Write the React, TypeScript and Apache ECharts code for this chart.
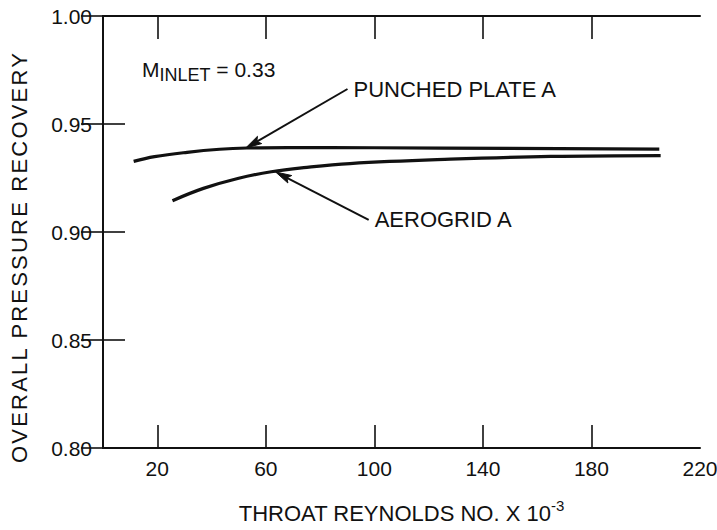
import { useEffect, useRef } from "react";
import * as echarts from "echarts";

// Throat Reynolds number (x 10^-3) and overall pressure recovery per screen
const punchedRe = [11.3, 19, 31, 43, 53, 68, 100, 150, 205];
const punchedRecovery = [0.9327, 0.9349, 0.9369, 0.9383, 0.9389, 0.9391, 0.939, 0.9387, 0.9384];
const aerogridRe = [25.6, 37, 50, 62, 74, 91, 128, 165, 205.5];
const aerogridRecovery = [0.9145, 0.9202, 0.9249, 0.9279, 0.9298, 0.9317, 0.9337, 0.935, 0.9354];

// Axis ticks
const xLabelValues = [20, 60, 100, 140, 180, 220];
const xTickValues = [20, 60, 100, 140, 180];

// Callout arrows: label, tail (text end) and tip (on the curve)
const calloutLabels = ["PUNCHED PLATE A", "AEROGRID A"];
const calloutTailRe = [90.1, 97.9];
const calloutTailRecovery = [0.9662, 0.9056];
const calloutTipRe = [52.6, 63.6];
const calloutTipRecovery = [0.9389, 0.9278];

const INK = "#111";
const FONT = "Liberation Sans, Arial, Helvetica, sans-serif";

// The vertical axis title is set with wider tracking than the other texts
const TITLE_TRACKING_CSS = `.recovery-chart svg text[transform^="matrix(0,-1"] { letter-spacing: 2.2px; }`;

export default function App() {
  const ref = useRef<HTMLDivElement>(null);

  useEffect(() => {
    if (!ref.current) return;
    const chart = echarts.init(ref.current, undefined, { renderer: "svg" });

    const pair = (xs: number[], ys: number[]) => xs.map((x, i) => [x, ys[i]]);
    const callouts = calloutLabels.map((label, i) => [
      calloutTailRe[i],
      calloutTailRecovery[i],
      calloutTipRe[i],
      calloutTipRecovery[i],
      label,
    ]);

    const axisLine = { show: true, lineStyle: { color: INK, width: 2 } };
    const tickStyle = { color: INK, width: 1.6 };

    chart.setOption({
      animation: false,
      backgroundColor: "#fff",
      grid: { left: 103, right: 17, top: 16, bottom: 82, outerBoundsMode: "none", containLabel: false },
      xAxis: [
        {
          type: "value",
          min: 0,
          max: 220,
          position: "bottom",
          axisLine,
          splitLine: { show: false },
          axisTick: { show: true, inside: true, length: 23, customValues: xTickValues, lineStyle: tickStyle },
          axisLabel: {
            customValues: xLabelValues,
            margin: 10,
            color: INK,
            fontSize: 21,
            fontFamily: FONT,
          },
          name: "THROAT REYNOLDS NO. X 10{sup|-3}",
          nameLocation: "middle",
          nameGap: 50,
          nameTextStyle: {
            color: INK,
            fontSize: 22,
            fontFamily: FONT,
            lineHeight: 30,
            rich: {
              sup: { fontSize: 15, lineHeight: 14, verticalAlign: "top", color: INK, fontFamily: FONT },
            },
          },
        },
        {
          type: "value",
          min: 0,
          max: 220,
          position: "top",
          axisLine,
          splitLine: { show: false },
          axisTick: { show: true, inside: true, length: 23, customValues: xTickValues, lineStyle: tickStyle },
          axisLabel: { show: false },
        },
      ],
      yAxis: [
        {
          type: "value",
          min: 0.8,
          max: 1.0,
          interval: 0.05,
          position: "left",
          axisLine,
          splitLine: { show: false },
          axisTick: { show: true, inside: true, length: 22, lineStyle: tickStyle },
          axisLabel: {
            margin: 11,
            color: INK,
            fontSize: 21,
            fontFamily: FONT,
            formatter: (v: number) => v.toFixed(2),
          },
        },
        {
          type: "value",
          min: 0.8,
          max: 1.0,
          interval: 0.05,
          position: "right",
          axisLine,
          splitLine: { show: false },
          axisTick: { show: true, inside: true, length: 22, lineStyle: tickStyle },
          axisLabel: { show: false },
        },
      ],
      graphic: [
        {
          type: "text",
          x: 19,
          y: 257,
          rotation: Math.PI / 2,
          style: {
            text: "OVERALL PRESSURE RECOVERY",
            fill: INK,
            font: `22px ${FONT}`,
            align: "center",
            verticalAlign: "middle",
          },
        },
        {
          type: "text",
          x: 142,
          y: 69,
          style: {
            text: "{m|M}{sub|INLET}{m| = 0.33}",
            align: "left",
            verticalAlign: "middle",
            rich: {
              m: { fontSize: 21, fontFamily: FONT, lineHeight: 30, fill: INK },
              sub: { fontSize: 18, fontFamily: FONT, lineHeight: 18, padding: [12, 0, 0, 0], fill: INK },
            },
          },
        },
      ],
      series: [
        {
          name: "PUNCHED PLATE A",
          type: "line",
          xAxisIndex: 0,
          yAxisIndex: 0,
          data: pair(punchedRe, punchedRecovery),
          smooth: 0.4,
          showSymbol: false,
          symbol: "none",
          lineStyle: { color: INK, width: 3.2 },
        },
        {
          name: "AEROGRID A",
          type: "line",
          xAxisIndex: 0,
          yAxisIndex: 0,
          data: pair(aerogridRe, aerogridRecovery),
          smooth: 0.4,
          showSymbol: false,
          symbol: "none",
          lineStyle: { color: INK, width: 3.2 },
        },
        {
          type: "custom",
          xAxisIndex: 0,
          yAxisIndex: 0,
          data: callouts,
          encode: { x: [0, 2], y: [1, 3] },
          renderItem: (params: any, api: any) => {
            const tail = api.coord([api.value(0), api.value(1)]);
            const tip = api.coord([api.value(2), api.value(3)]);
            const label = calloutLabels[params.dataIndex];
            const dx = tip[0] - tail[0];
            const dy = tip[1] - tail[1];
            const len = Math.hypot(dx, dy);
            const ux = dx / len;
            const uy = dy / len;
            const px = -uy;
            const py = ux;
            const headLen = 16;
            const headHalf = 4.2;
            const bx = tip[0] - ux * headLen;
            const by = tip[1] - uy * headLen;
            const nx = tip[0] - ux * headLen * 0.8;
            const ny = tip[1] - uy * headLen * 0.8;
            return {
              type: "group",
              children: [
                {
                  type: "line",
                  shape: { x1: tail[0], y1: tail[1], x2: nx, y2: ny },
                  style: { stroke: INK, lineWidth: 2 },
                },
                {
                  type: "polygon",
                  shape: {
                    points: [
                      [tip[0], tip[1]],
                      [bx + px * headHalf, by + py * headHalf],
                      [nx, ny],
                      [bx - px * headHalf, by - py * headHalf],
                    ],
                  },
                  style: { fill: INK, stroke: INK, lineWidth: 1 },
                },
                {
                  type: "text",
                  x: tail[0] + 6,
                  y: tail[1],
                  style: {
                    text: label,
                    fill: INK,
                    font: `22px ${FONT}`,
                    align: "left",
                    verticalAlign: "middle",
                  },
                },
              ],
            };
          },
        },
      ],
    });

    return () => chart.dispose();
  }, []);

  return (
    <>
      <style>{TITLE_TRACKING_CSS}</style>
      <div
        ref={ref}
        className="recovery-chart"
        style={{ position: "fixed", left: 0, top: 0, width: 717, height: 530, background: "#fff" }}
      />
    </>
  );
}
